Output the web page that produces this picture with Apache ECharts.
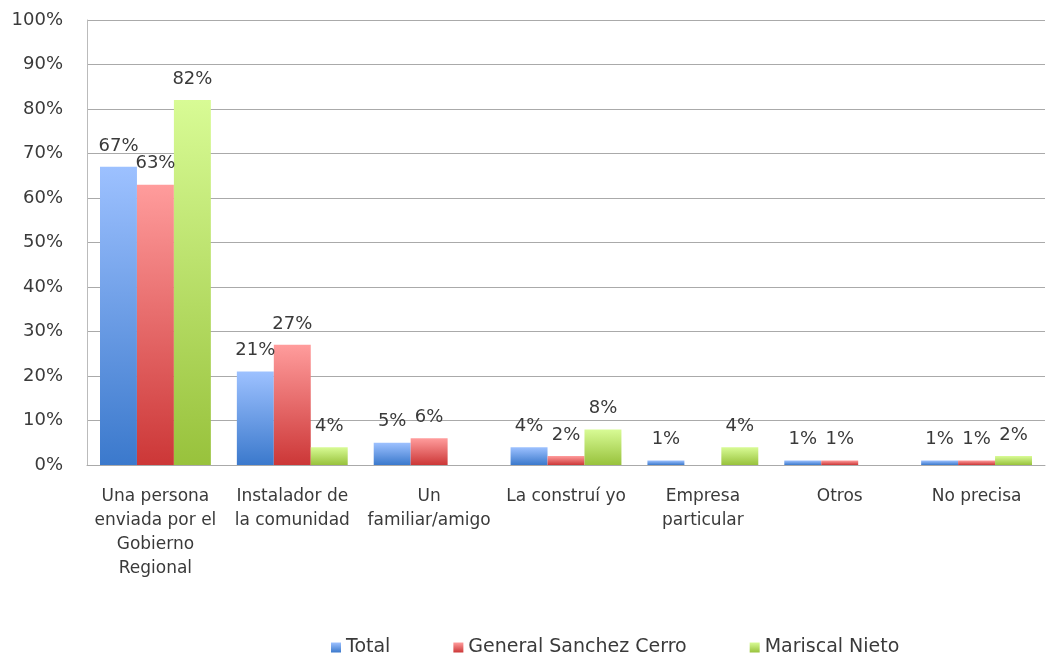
<!DOCTYPE html>
<html>
<head>
<meta charset="utf-8">
<script src="https://cdn.jsdelivr.net/npm/echarts@6/dist/echarts.min.js"></script>
<style>
  html, body { margin: 0; padding: 0; background: #fff; }
  #chart { width: 1049px; height: 657px; }
</style>
</head>
<body>
<div id="chart"></div>
<script>
const categories = [
  'Una persona\nenviada por el\nGobierno\nRegional',
  'Instalador de\nla comunidad',
  'Un\nfamiliar/amigo',
  'La construí yo',
  'Empresa\nparticular',
  'Otros',
  'No precisa'
]
const total = [67, 21, 5, 4, 1, 1, 1]
const sanchezCerro = [63, 27, 6, 2, 0, 1, 1]
const mariscalNieto = [82, 4, 0, 8, 4, 0, 2]

const font = '"DejaVu Sans", sans-serif'
const textColor = '#3a3a3a'

const grad = (top, bottom) => new echarts.graphic.LinearGradient(0, 0, 0, 1, [
  { offset: 0, color: top },
  { offset: 1, color: bottom }
])

const makeSeries = (name, data, top, bottom) => ({
  type: 'bar',
  name: name,
  data: data,
  barGap: '0%',
  barCategoryGap: '19%',
  itemStyle: { color: grad(top, bottom) },
  label: {
    show: true,
    position: 'top',
    distance: 12,
    fontFamily: font,
    fontSize: 18,
    color: textColor,
    formatter: (p) => (p.value > 0 ? p.value + '%' : '')
  }
})

const chart = echarts.init(document.getElementById('chart'))
chart.setOption({
  animation: false,
  textStyle: { fontFamily: font },
  legend: {
    top: 633,
    left: 326,
    icon: 'rect',
    itemWidth: 10,
    itemHeight: 10,
    itemGap: 63,
    textStyle: { fontSize: 19, color: textColor, fontFamily: font }
  },
  grid: { left: 87, right: 4, top: 20, bottom: 192 },
  xAxis: {
    type: 'category',
    data: categories,
    axisTick: { show: false },
    axisLine: { lineStyle: { color: '#aaa' } },
    axisLabel: {
      interval: 0,
      margin: 20,
      fontSize: 17,
      lineHeight: 24,
      color: textColor,
      fontFamily: font
    }
  },
  yAxis: {
    type: 'value',
    min: 0,
    max: 100,
    interval: 10,
    axisLine: { show: true, lineStyle: { color: '#bbb' } },
    splitLine: { lineStyle: { color: '#aaa' } },
    axisLabel: {
      formatter: '{value}%',
      fontSize: 18,
      margin: 24,
      color: textColor,
      fontFamily: font
    }
  },
  series: [
    makeSeries('Total', total, '#9dc1ff', '#3b79cc'),
    makeSeries('General Sanchez Cerro', sanchezCerro, '#ff9c9c', '#cc3737'),
    makeSeries('Mariscal Nieto', mariscalNieto, '#d8fb95', '#98c23c')
  ]
})
</script>
</body>
</html>
